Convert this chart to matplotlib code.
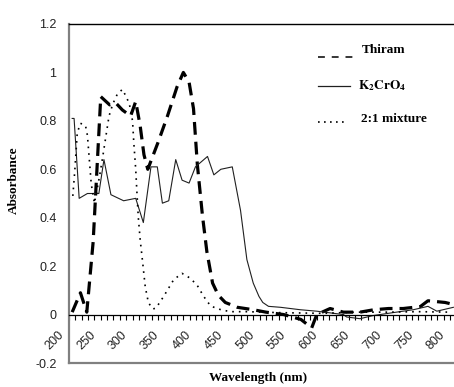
import numpy as np
import matplotlib
matplotlib.use("Agg")
import matplotlib.pyplot as plt
from matplotlib.lines import Line2D
from matplotlib.transforms import ScaledTranslation

wl_thiram = [205, 218, 228, 238, 244, 250, 264, 274, 284, 297,
             305, 312, 318, 324, 340, 355, 370, 380, 389, 396,
             402, 410, 417, 426, 435, 446, 465, 490, 510, 538,
             565, 582, 590, 611, 632, 658, 680, 703, 726, 753,
             765, 792, 800]
abs_thiram = [0.01, 0.09, 0.01, 0.30, 0.60, 0.90, 0.866, 0.873, 0.845, 0.82,
              0.88, 0.78, 0.66, 0.60, 0.71, 0.82, 0.94, 1.0, 0.96, 0.85,
              0.62, 0.41, 0.26, 0.13, 0.08, 0.05, 0.03, 0.02, 0.01, 0.0,
              -0.02, -0.055, 0.0, 0.025, 0.01, 0.01, 0.02, 0.025, 0.025, 0.033,
              0.057, 0.05, 0.045]

wl_k2cro4 = [205, 208, 216, 229, 247, 255, 266, 286, 305, 317,
             329, 339, 347, 357, 368, 378, 389, 399, 418, 428,
             439, 457, 470, 480, 490, 499, 505, 514, 533, 564,
             590, 632, 637, 658, 679, 710, 742, 765, 779, 805]
abs_k2cro4 = [0.81, 0.81, 0.48, 0.50, 0.50, 0.64, 0.495, 0.47, 0.48, 0.38,
              0.61, 0.61, 0.46, 0.47, 0.64, 0.555, 0.543, 0.61, 0.653, 0.577,
              0.60, 0.61, 0.43, 0.227, 0.13, 0.075, 0.05, 0.034, 0.03, 0.02,
              0.014, 0.0, -0.01, -0.017, -0.004, 0.008, 0.02, 0.034, 0.014, 0.03]

wl_mix = [206, 209, 213, 218, 226, 229, 232, 235, 240, 248,
          253, 258, 263, 269, 276, 284, 290, 295, 300, 302,
          305, 307, 309, 312, 316, 320, 325, 332, 337, 349,
          365, 378, 391, 402, 412, 423, 439, 454, 480, 530,
          600, 650, 700, 750, 800]
abs_mix = [0.49, 0.59, 0.75, 0.79, 0.78, 0.74, 0.64, 0.54, 0.46, 0.57,
           0.65, 0.735, 0.82, 0.87, 0.91, 0.93, 0.90, 0.87, 0.80, 0.71,
           0.60, 0.50, 0.405, 0.31, 0.214, 0.115, 0.049, 0.023, 0.027, 0.075,
           0.145, 0.17, 0.15, 0.12, 0.075, 0.035, 0.02, 0.012, 0.012, 0.008,
           0.005, 0.01, 0.01, 0.012, 0.01]

x_ticks = np.arange(200, 801, 50)
y_ticks = [-0.2, 0, 0.2, 0.4, 0.6, 0.8, 1, 1.2]
y_labels = ["-0.2", "0", "0.2", "0.4", "0.6", "0.8", "1", "1.2"]

W, H = 454, 387
fig = plt.figure(figsize=(W / 100, H / 100), dpi=100)
ax = fig.add_axes([69 / W, 24 / H, 385 / W, 339 / H])

ax.plot(wl_thiram, abs_thiram, color="black", lw=2.3, dashes=(4, 2.2))
ax.plot(wl_k2cro4, abs_k2cro4, color="#202020", lw=0.8)
ax.plot(wl_mix, abs_mix, color="black", lw=1.2, dashes=(1, 3))

ax.set_xlim(200, 806)
ax.set_ylim(-0.2, 1.2)

# x axis sits on the zero line, frame line at -0.2
ax.spines["bottom"].set_position(("data", 0))
ax.spines["bottom"].set_linewidth(0.9)
ax.spines["right"].set_visible(False)
ax.spines["top"].set_linewidth(1.0)
ax.spines["left"].set_color("#808080")
ax.spines["left"].set_linewidth(1.6)
ax.axhline(-0.2, color="#808080", lw=1.6, clip_on=False)

ax.set_xticks(x_ticks)
ax.set_xticks(np.arange(200, 801, 10), minor=True)
ax.set_xticklabels([str(t) for t in x_ticks], rotation=45, ha="right",
                   va="top", rotation_mode="anchor", family="Liberation Sans",
                   fontsize=9, color="#222222")
ax.tick_params(axis="x", which="both", direction="out", length=3.5,
               width=0.8, pad=7)
shift = ScaledTranslation(-8 / 72, 0, fig.dpi_scale_trans)
for lab in ax.get_xticklabels():
    lab.set_transform(lab.get_transform() + shift)
ax.set_yticks(y_ticks)
ax.set_yticklabels(y_labels, family="Liberation Sans", fontsize=9,
                   color="#222222")
ax.tick_params(axis="y", length=0, pad=9)

ax.set_ylabel("Absorbance", family="Liberation Serif", fontweight="bold",
              fontsize=9.5)
ax.yaxis.set_label_coords(-0.128, 0.54)
ax.set_xlabel("Wavelength (nm)", family="Liberation Serif",
              fontweight="bold", fontsize=9.5)
ax.xaxis.set_label_coords(0.49, -0.026)

# hand-made legend
def fx(px):
    return px / W


def fy(py):
    return 1 - py / H


fig.add_artist(Line2D([fx(318), fx(354)], [fy(57), fy(57)], color="black",
                      lw=1.1, dashes=(4.5, 4.5)))
fig.add_artist(Line2D([fx(318), fx(350)], [fy(86), fy(86)], color="#202020",
                      lw=0.9))
fig.add_artist(Line2D([fx(318), fx(348)], [fy(122), fy(122)], color="black",
                      lw=1.2, dashes=(1, 2.6)))
fig.text(fx(362), fy(50), "Thiram", family="Liberation Serif",
         fontweight="bold", fontsize=9.5, va="center")
plt.rcParams["mathtext.fontset"] = "stix"
fig.text(fx(358), fy(86), r"$\mathbf{K_2CrO_4}$", fontsize=9.5, va="center")
fig.text(fx(361), fy(119), "2:1 mixture", family="Liberation Serif",
         fontweight="bold", fontsize=9.5, va="center")

fig.savefig("out.png", dpi=100)
